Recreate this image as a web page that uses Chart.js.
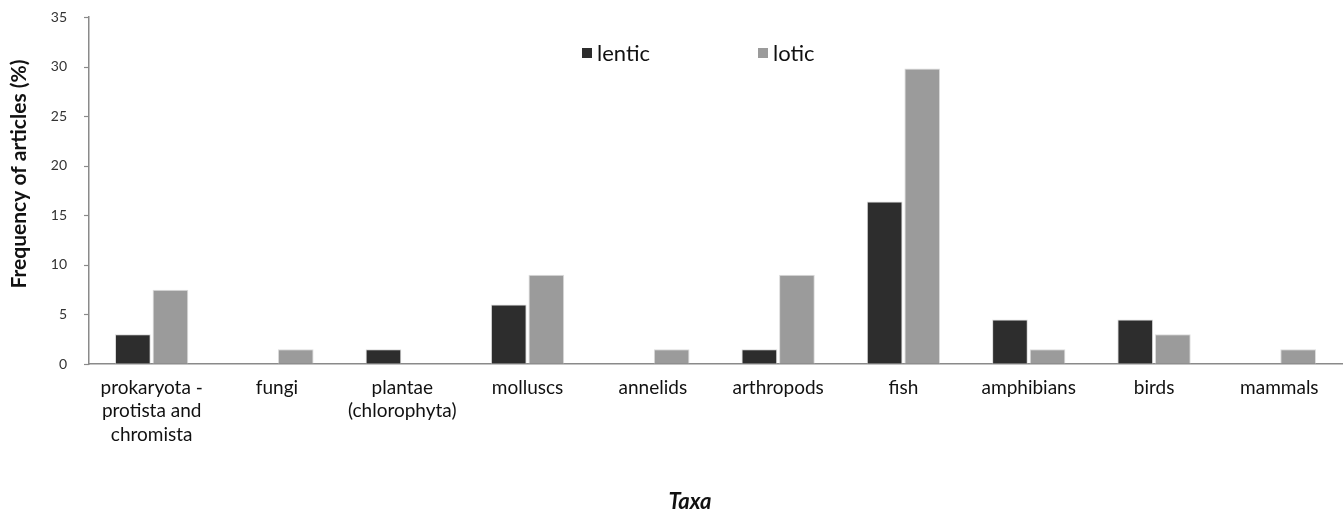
<!DOCTYPE html>
<html lang="en">
<head>
  <meta charset="UTF-8">
  <title>Frequency of articles by taxa</title>
  <script src="https://cdn.jsdelivr.net/npm/chart.js"></script>
  <style>
    * { box-sizing: border-box; }
    body { margin: 0; background: #fff; }
    #wrap { width: 1344px; height: 513px; }
  </style>
</head>
<body>
  <div id="wrap"><canvas id="taxaChart" width="1344" height="513"></canvas></div>

  <script>
    const categories = [
      ['prokaryota -', 'protista and', 'chromista'],
      'fungi',
      ['plantae', '(chlorophyta)'],
      'molluscs', 'annelids', 'arthropods', 'fish', 'amphibians', 'birds', 'mammals'
    ];
    const lenticValues = [3.0, 0, 1.5, 6.0, 0, 1.5, 16.4, 4.5, 4.5, 0];
    const loticValues  = [7.5, 1.5, 0, 9.0, 1.5, 9.0, 29.8, 1.5, 3.0, 1.5];
    const seriesNames = ['lentic', 'lotic'];
    const yTicks = [0, 5, 10, 15, 20, 25, 30, 35];
    const yTitle = 'Frequency of articles (%)';
    const xTitle = 'Taxa';

    const fontFamily = 'Lato, "Open Sans", sans-serif';
    const axisColor = '#8a8a8a';

    // legend inside the plot, short y tick marks, and the two axis titles
    const chartText = {
      id: 'chartText',
      afterDraw(chart) {
        const ctx = chart.ctx;
        const area = chart.chartArea;
        const yScale = chart.scales.y;
        ctx.save();

        // 5px outward tick marks on the y axis
        ctx.strokeStyle = axisColor;
        ctx.lineWidth = 1.2;
        yTicks.forEach(v => {
          const py = Math.round(yScale.getPixelForValue(v)) + 0.5;
          ctx.beginPath();
          ctx.moveTo(area.left - 5, py);
          ctx.lineTo(area.left, py);
          ctx.stroke();
        });

        const y = area.top + 36;
        let x = area.left + 493;
        ctx.font = '22px ' + fontFamily;
        ctx.textBaseline = 'middle';
        chart.data.datasets.forEach(ds => {
          ctx.fillStyle = ds.backgroundColor;
          ctx.fillRect(x, y - 5, 10, 10);
          ctx.fillStyle = '#111';
          ctx.fillText(ds.label, x + 15, y + 1);
          x += 176;
        });

        ctx.fillStyle = '#111';
        ctx.textAlign = 'center';
        ctx.font = 'bold 21px ' + fontFamily;
        ctx.save();
        ctx.translate(19, 174);
        ctx.rotate(-Math.PI / 2);
        ctx.fillText(yTitle, 0, 0);
        ctx.restore();

        ctx.font = 'italic bold 22px ' + fontFamily;
        ctx.fillText(xTitle, 690, 502);
        ctx.restore();
      }
    };

    new Chart(document.getElementById('taxaChart'), {
      type: 'bar',
      data: {
        labels: categories,
        datasets: [
          { label: seriesNames[0], data: lenticValues, backgroundColor: '#2d2d2d', borderColor: '#d9d9d9', borderWidth: 1 },
          { label: seriesNames[1], data: loticValues, backgroundColor: '#9b9b9b', borderColor: '#dcdcdc', borderWidth: 1 }
        ]
      },
      options: {
        responsive: false,
        animation: false,
        layout: { padding: { top: 17, right: 2, left: 0, bottom: 0 } },
        datasets: { bar: { categoryPercentage: 0.6, barPercentage: 0.95 } },
        plugins: {
          legend: { display: false },
          tooltip: { enabled: false }
        },
        scales: {
          x: {
            grid: { display: false },
            border: { display: true, color: axisColor, width: 1.5 },
            ticks: {
              color: '#111',
              font: { family: fontFamily, size: 19, lineHeight: 1.24 },
              padding: 4,
              maxRotation: 0,
              autoSkip: false
            },
            afterFit(scale) { scale.height = 149; }
          },
          y: {
            min: 0,
            max: 35,
            afterBuildTicks(scale) { scale.ticks = yTicks.map(v => ({ value: v })); },
            grid: { drawOnChartArea: false, tickLength: 20, tickColor: 'rgba(0,0,0,0)' },
            border: { display: true, color: axisColor, width: 1.5 },
            ticks: {
              color: '#333',
              font: { family: fontFamily, size: 14 },
              padding: 2
            },
            afterFit(scale) { scale.width = 89; }
          }
        }
      },
      plugins: [chartText]
    });
  </script>
</body>
</html>
